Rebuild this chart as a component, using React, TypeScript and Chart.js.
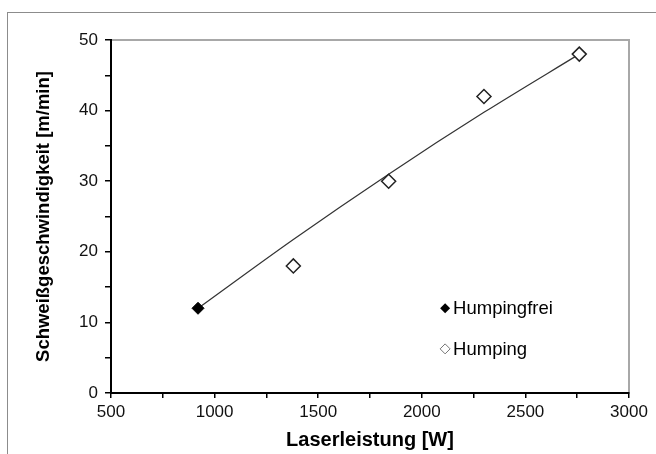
import React, { useEffect, useRef } from 'react';
import { Chart, registerables } from 'chart.js';

Chart.register(...registerables);

// ---- data ----
const humpingfreiX = [920];
const humpingfreiY = [12];
const humpingX = [1380, 1840, 2300, 2760];
const humpingY = [18, 30, 42, 48];
const trendX = [920, 1380, 1840, 2300, 2760];
const trendY = [12, 21.75, 31, 39.75, 48];
const xTickLabels = [500, 1000, 1500, 2000, 2500, 3000];
const yTickLabels = [0, 10, 20, 30, 40, 50];
const legendLabels = ['Humpingfrei', 'Humping'];
const xTitle = 'Laserleistung [W]';
const yTitle = 'Schweißgeschwindigkeit [m/min]';

const FONT = "'Liberation Sans', Arial, sans-serif";

function diamond(ctx: CanvasRenderingContext2D, x: number, y: number, r: number) {
  ctx.beginPath();
  ctx.moveTo(x, y - r);
  ctx.lineTo(x + r, y);
  ctx.lineTo(x, y + r);
  ctx.lineTo(x - r, y);
  ctx.closePath();
}

const framePlugin = {
  id: 'frameAndLegend',
  beforeDraw(chart: any) {
    const { ctx, chartArea: a, width, height } = chart;
    ctx.save();
    ctx.fillStyle = '#ffffff';
    ctx.fillRect(0, 0, width, height);
    ctx.strokeStyle = '#8c8c8c';
    ctx.lineWidth = 1;
    ctx.strokeRect(7.5, 12.5, width + 20, height + 20);
    ctx.strokeStyle = '#a8a8a8';
    ctx.lineWidth = 2;
    ctx.strokeRect(a.left, a.top, a.right - a.left, a.bottom - a.top);
    ctx.restore();
  },
  afterDraw(chart: any) {
    const { ctx, chartArea: a } = chart;
    const w = a.right - a.left;
    const h = a.bottom - a.top;
    const mx = a.left + w * 0.645;
    const tx = mx + 8;
    const ys = [a.top + h * 0.76, a.top + h * 0.875];
    ctx.save();
    ctx.font = `18.5px ${FONT}`;
    ctx.textBaseline = 'middle';
    ctx.textAlign = 'left';
    // filled
    diamond(ctx, mx, ys[0], 5);
    ctx.fillStyle = '#000';
    ctx.fill();
    ctx.fillText(legendLabels[0], tx, ys[0] + 1);
    // hollow
    diamond(ctx, mx, ys[1], 5);
    ctx.fillStyle = '#fff';
    ctx.fill();
    ctx.strokeStyle = '#777';
    ctx.lineWidth = 1;
    ctx.stroke();
    ctx.fillStyle = '#000';
    ctx.fillText(legendLabels[1], tx, ys[1] + 1);
    ctx.restore();
  },
};

export default function App() {
  const ref = useRef<HTMLCanvasElement | null>(null);

  useEffect(() => {
    if (!ref.current) return;
    const chart = new Chart(ref.current, {
      type: 'scatter',
      data: {
        datasets: [
          {
            label: 'Trend',
            data: trendX.map((x, i) => ({ x, y: trendY[i] })),
            showLine: true,
            borderColor: '#333333',
            borderWidth: 1.2,
            pointRadius: 0,
            cubicInterpolationMode: 'monotone',
            order: 3,
          } as any,
          {
            label: legendLabels[0],
            data: humpingfreiX.map((x, i) => ({ x, y: humpingfreiY[i] })),
            pointStyle: 'rectRot',
            pointRadius: 6,
            backgroundColor: '#000',
            borderColor: '#000',
            borderWidth: 1,
            order: 1,
          },
          {
            label: legendLabels[1],
            data: humpingX.map((x, i) => ({ x, y: humpingY[i] })),
            pointStyle: 'rectRot',
            pointRadius: 7,
            backgroundColor: '#fff',
            borderColor: '#222',
            borderWidth: 1.5,
            order: 2,
          },
        ],
      },
      options: {
        responsive: false,
        animation: false,
        events: [],
        layout: { padding: { left: 0, top: 40, right: 27, bottom: 0 } },
        plugins: {
          legend: { display: false },
          tooltip: { enabled: false },
        },
        scales: {
          x: {
            type: 'linear',
            min: 500,
            max: 3000,
            afterFit: (s: any) => { s.height = 61; },
            ticks: {
              stepSize: 250,
              autoSkip: false,
              maxRotation: 0,
              padding: 4,
              color: '#111',
              font: { family: FONT, size: 17 },
              callback: (v: any) => (xTickLabels.includes(Number(v)) ? String(v) : ''),
            },
            grid: {
              display: true,
              drawOnChartArea: false,
              drawTicks: true,
              tickLength: 5,
              color: '#000',
              lineWidth: 1.5,
            },
            border: { display: true, color: '#000', width: 2 },
            title: {
              display: true,
              text: xTitle,
              color: '#000',
              font: { family: FONT, size: 20, weight: 'bold' },
              padding: { top: 0, bottom: 2 },
            },
          },
          y: {
            type: 'linear',
            min: 0,
            max: 50,
            afterFit: (s: any) => { s.width = 111; },
            ticks: {
              stepSize: 5,
              autoSkip: false,
              padding: 7,
              color: '#111',
              font: { family: FONT, size: 17 },
              callback: (v: any) => (yTickLabels.includes(Number(v)) ? String(v) : ''),
            },
            grid: {
              display: true,
              drawOnChartArea: false,
              drawTicks: true,
              tickLength: 6,
              color: '#000',
              lineWidth: 1.5,
            },
            border: { display: true, color: '#000', width: 2 },
            title: {
              display: true,
              text: yTitle,
              color: '#000',
              font: { family: FONT, size: 18.5, weight: 'bold' },
              padding: { top: 33, bottom: 0 },
            },
          },
        },
      },
      plugins: [framePlugin],
    });
    return () => chart.destroy();
  }, []);

  return (
    <div style={{ position: 'absolute', left: 0, top: 0, width: 656, height: 454 }}>
      <canvas ref={ref} width={656} height={454} style={{ display: 'block' }} />
    </div>
  );
}
